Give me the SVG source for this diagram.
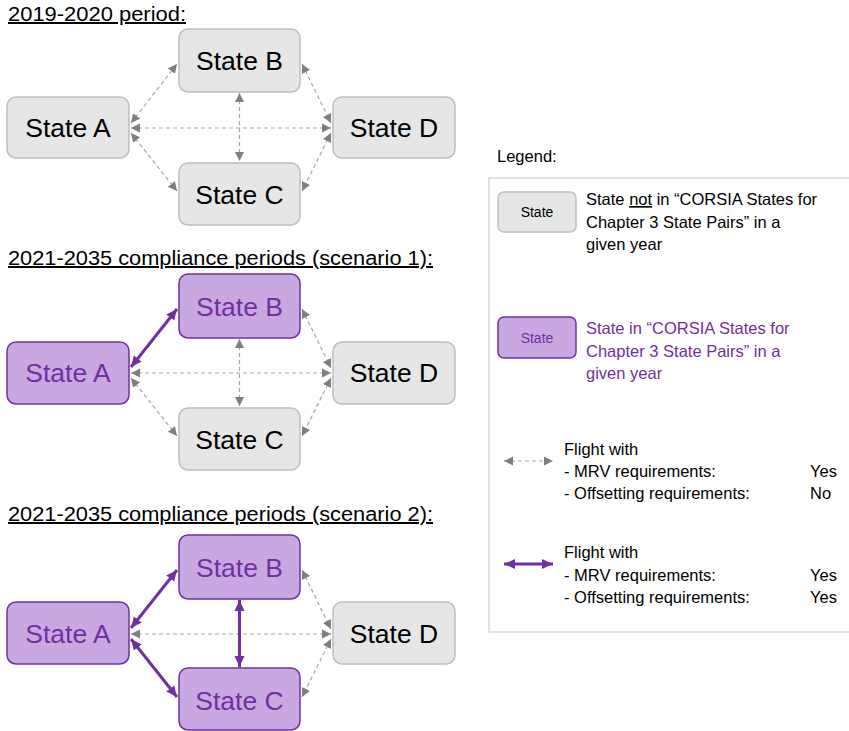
<svg xmlns="http://www.w3.org/2000/svg" width="849" height="731" viewBox="0 0 849 731">
<style>
text{font-family:"Liberation Sans",Arial,sans-serif;}
.title{font-size:20px;fill:#000;text-decoration:underline;}
.ng rect{fill:#e7e6e6;stroke:#bfbfbf;stroke-width:1.5;}
.np rect{fill:#c9a8e2;stroke:#7030a0;stroke-width:1.5;}
.ng text{fill:#000;font-size:26.5px;text-anchor:middle;}
.np text{fill:#7030a0;font-size:26.5px;text-anchor:middle;}
.g{stroke:#a6a6a6;stroke-width:1.2;stroke-dasharray:4 3;fill:none;marker-start:url(#ag);marker-end:url(#ag);}
.p{stroke:#7030a0;stroke-width:3;fill:none;marker-start:url(#ap);marker-end:url(#ap);}
.lt{font-size:16.5px;fill:#000;}
.ltp{font-size:16.5px;fill:#7030a0;}
</style>
<defs>
<marker id="ag" markerUnits="userSpaceOnUse" markerWidth="11" markerHeight="11" refX="9" refY="5" orient="auto-start-reverse"><path d="M0,0.5 L9,5 L0,9.5 z" fill="#7f7f7f"/></marker>
<marker id="ap" markerUnits="userSpaceOnUse" markerWidth="13" markerHeight="13" refX="11" refY="6" orient="auto-start-reverse"><path d="M0,1 L11,6 L0,11 z" fill="#7030a0"/></marker>
</defs>
<rect width="849" height="731" fill="#fff"/>

<text class="title" x="8" y="21" textLength="178" lengthAdjust="spacingAndGlyphs">2019-2020 period:</text>
<text class="title" x="8" y="265" textLength="425" lengthAdjust="spacingAndGlyphs">2021-2035 compliance periods (scenario 1):</text>
<text class="title" x="8" y="521" textLength="425" lengthAdjust="spacingAndGlyphs">2021-2035 compliance periods (scenario 2):</text>

<g id="connectors">
<!-- panel 1 -->
<line class="g" x1="131" y1="123" x2="177" y2="64"/>
<line class="g" x1="131" y1="133" x2="177" y2="191"/>
<line class="g" x1="131" y1="128" x2="331" y2="128"/>
<line class="g" x1="239.5" y1="93" x2="239.5" y2="161"/>
<line class="g" x1="302" y1="64" x2="331" y2="123"/>
<line class="g" x1="331" y1="133" x2="302" y2="191"/>
<!-- panel 2 -->
<line class="p" x1="131" y1="367" x2="177" y2="309"/>
<line class="g" x1="131" y1="378" x2="177" y2="436"/>
<line class="g" x1="131" y1="373" x2="331" y2="373"/>
<line class="g" x1="239.5" y1="339" x2="239.5" y2="406"/>
<line class="g" x1="302" y1="309" x2="331" y2="368"/>
<line class="g" x1="331" y1="378" x2="302" y2="436"/>
<!-- panel 3 -->
<line class="p" x1="131" y1="628" x2="177" y2="570"/>
<line class="p" x1="131" y1="639" x2="177" y2="697"/>
<line class="g" x1="131" y1="634" x2="331" y2="634"/>
<line class="p" x1="239.5" y1="600" x2="239.5" y2="667"/>
<line class="g" x1="302" y1="570" x2="331" y2="629"/>
<line class="g" x1="331" y1="639" x2="302" y2="697"/>
</g>

<!-- panel 1 nodes -->
<g id="p1-A" class="ng"><rect x="7" y="97" width="122" height="61" rx="9"/><text x="68" y="137">State A</text></g>
<g id="p1-B" class="ng"><rect x="179" y="29" width="121" height="63" rx="9"/><text x="239.5" y="70">State B</text></g>
<g id="p1-C" class="ng"><rect x="179" y="163" width="121" height="62" rx="9"/><text x="239.5" y="204">State C</text></g>
<g id="p1-D" class="ng"><rect x="333" y="97" width="122" height="61" rx="9"/><text x="394" y="137">State D</text></g>

<!-- panel 2 nodes -->
<g id="p2-A" class="np"><rect x="7" y="342" width="122" height="62" rx="9"/><text x="68" y="382">State A</text></g>
<g id="p2-B" class="np"><rect x="179" y="274" width="121" height="64" rx="9"/><text x="239.5" y="316">State B</text></g>
<g id="p2-C" class="ng"><rect x="179" y="408" width="121" height="62" rx="9"/><text x="239.5" y="449">State C</text></g>
<g id="p2-D" class="ng"><rect x="333" y="342" width="122" height="62" rx="9"/><text x="394" y="382">State D</text></g>

<!-- panel 3 nodes -->
<g id="p3-A" class="np"><rect x="7" y="602" width="122" height="62" rx="9"/><text x="68" y="643">State A</text></g>
<g id="p3-B" class="np"><rect x="179" y="535" width="121" height="64" rx="9"/><text x="239.5" y="577">State B</text></g>
<g id="p3-C" class="np"><rect x="179" y="668" width="121" height="62" rx="9"/><text x="239.5" y="710">State C</text></g>
<g id="p3-D" class="ng"><rect x="333" y="602" width="122" height="62" rx="9"/><text x="394" y="643">State D</text></g>

<!-- legend -->
<g id="legend">
<text class="lt" x="497" y="162">Legend:</text>
<rect x="489" y="178" width="370" height="454" fill="#fff" stroke="#d9d9d9" stroke-width="1.5"/>
<g id="leg-gray" class="ng"><rect x="498" y="192" width="78" height="40" rx="6"/><text x="537" y="217" style="font-size:14px">State</text></g>
<text class="lt" x="586" y="205">State <tspan text-decoration="underline">not</tspan> in “CORSIA States for</text>
<text class="lt" x="586" y="228">Chapter 3 State Pairs” in a</text>
<text class="lt" x="586" y="250">given year</text>
<g id="leg-purple" class="np"><rect x="498" y="317" width="78" height="41" rx="6"/><text x="537" y="343" style="font-size:14px">State</text></g>
<text class="ltp" x="586" y="334">State in “CORSIA States for</text>
<text class="ltp" x="586" y="357">Chapter 3 State Pairs” in a</text>
<text class="ltp" x="586" y="379">given year</text>
<line class="g" x1="504" y1="461" x2="553" y2="461"/>
<text class="lt" x="564" y="455">Flight with</text>
<text class="lt" x="564" y="477">- MRV requirements:</text>
<text class="lt" x="564" y="499">- Offsetting requirements:</text>
<text class="lt" x="810" y="477">Yes</text>
<text class="lt" x="810" y="499">No</text>
<line class="p" x1="504" y1="564" x2="553" y2="564"/>
<text class="lt" x="564" y="558">Flight with</text>
<text class="lt" x="564" y="581">- MRV requirements:</text>
<text class="lt" x="564" y="603">- Offsetting requirements:</text>
<text class="lt" x="810" y="581">Yes</text>
<text class="lt" x="810" y="603">Yes</text>
</g>
</svg>
